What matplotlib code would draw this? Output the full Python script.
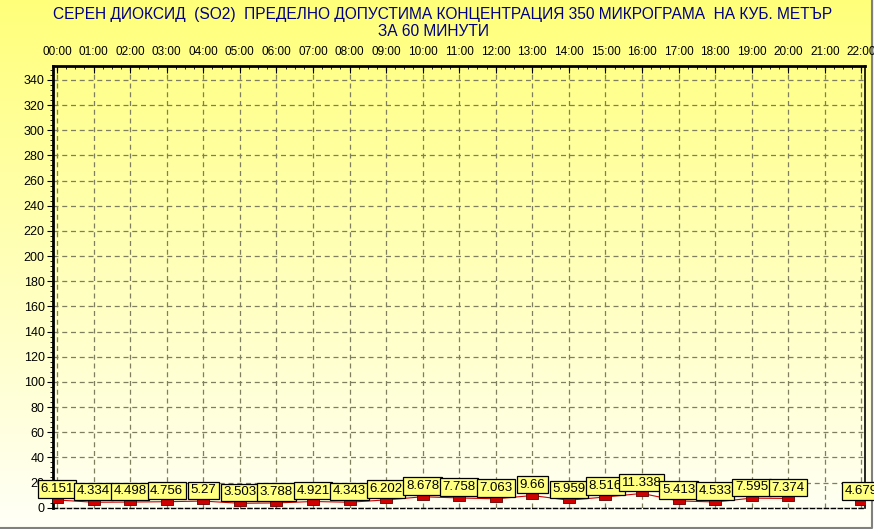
import matplotlib.pyplot as plt
import numpy as np
from matplotlib.path import Path
from matplotlib.ticker import MultipleLocator

plt.rcParams['font.family'] = ['Liberation Sans', 'DejaVu Sans']

# hourly SO2 values, hour 21 has no data
hours = np.arange(0, 23)
values = [6.151, 4.334, 4.498, 4.756, 5.27, 3.503, 3.788, 4.921, 4.343, 6.202,
          8.678, 7.758, 7.063, 9.66, 5.959, 8.516, 11.338, 5.413, 4.533, 7.595,
          7.374, np.nan, 4.679]
hour_labels = ['%02d:00' % h for h in hours]
y_ticks = np.arange(0, 341, 20)

title1 = 'СЕРЕН ДИОКСИД  (SO2)  ПРЕДЕЛНО ДОПУСТИМА КОНЦЕНТРАЦИЯ 350 МИКРОГРАМА  НА КУБ. МЕТЪР'
title2 = 'ЗА 60 МИНУТИ'

fig = plt.figure(figsize=(8.74, 5.29), dpi=100)

# yellow -> white background gradient
bg = fig.add_axes([0, 0, 1, 1], zorder=-10)
grad = np.linspace(0, 1, 256)[:, None]
top = np.array([1.0, 1.0, 0.48])
bot = np.array([1.0, 1.0, 0.97])
img = top[None, None, :] * (1 - grad[:, :, None]) + bot[None, None, :] * grad[:, :, None]
bg.imshow(img, aspect='auto', extent=[0, 1, 0, 1])
bg.set_xlim(0, 1)
bg.set_ylim(0, 1)
bg.axis('off')
# window-like grey border right/bottom
bg.plot([0, 0.9975, 0.9975], [0.0025, 0.0025, 1], color='#808080', lw=1.5)

ax = fig.add_axes([53 / 874, 1 - 507.7 / 529, 812 / 874, 441.7 / 529])
ax.set_facecolor('none')

ax.plot(hours, values, color='#d00000', lw=0.8, zorder=3)
rect = Path([(-1, -0.5), (1, -0.5), (1, 0.5), (-1, 0.5), (-1, -0.5)])
ax.plot(hours, values, ls='none', marker=rect, ms=9, mfc='#d00000', mec='#600000',
        mew=0.6, zorder=4)

for h, v in zip(hours, values):
    if np.isnan(v):
        continue
    ax.annotate(str(v), (h, v), xytext=(0, 3.5), textcoords='offset points',
                ha='center', va='bottom', fontsize=9.5, zorder=5,
                bbox=dict(boxstyle='square,pad=0.2', fc='#ffff80', ec='black', lw=0.9))

ax.set_xlim(-0.11, 22.1)
ax.set_ylim(0, 351)
ax.xaxis.tick_top()
ax.set_xticks(hours)
ax.set_xticklabels(hour_labels, fontsize=8.5)
ax.xaxis.set_minor_locator(MultipleLocator(0.25))
ax.tick_params(axis='x', which='major', direction='in', length=5, pad=6)
ax.tick_params(axis='x', which='minor', direction='in', length=2.5)
ax.set_yticks(y_ticks)
ax.set_yticklabels([str(t) for t in y_ticks], fontsize=9)
ax.yaxis.set_minor_locator(MultipleLocator(4))
ax.tick_params(axis='y', which='major', direction='out', length=4, pad=2)
ax.tick_params(axis='y', which='minor', direction='out', length=2)

ax.grid(True, which='major', color='#7f7f60', ls=(0, (4, 3)), lw=0.9)

for side in ['top', 'left']:
    ax.spines[side].set_linewidth(2)
ax.spines['right'].set_linewidth(1.2)
ax.spines['bottom'].set_linewidth(1)
ax.spines['bottom'].set_linestyle((0, (3, 2)))

fig.text(443 / 874, 1 - 15 / 529, title1, ha='center', va='center', fontsize=11.2, color='#000080')
fig.text(434 / 874, 1 - 32 / 529, title2, ha='center', va='center', fontsize=11.2, color='#000080')

fig.savefig('out.png', dpi=100)
